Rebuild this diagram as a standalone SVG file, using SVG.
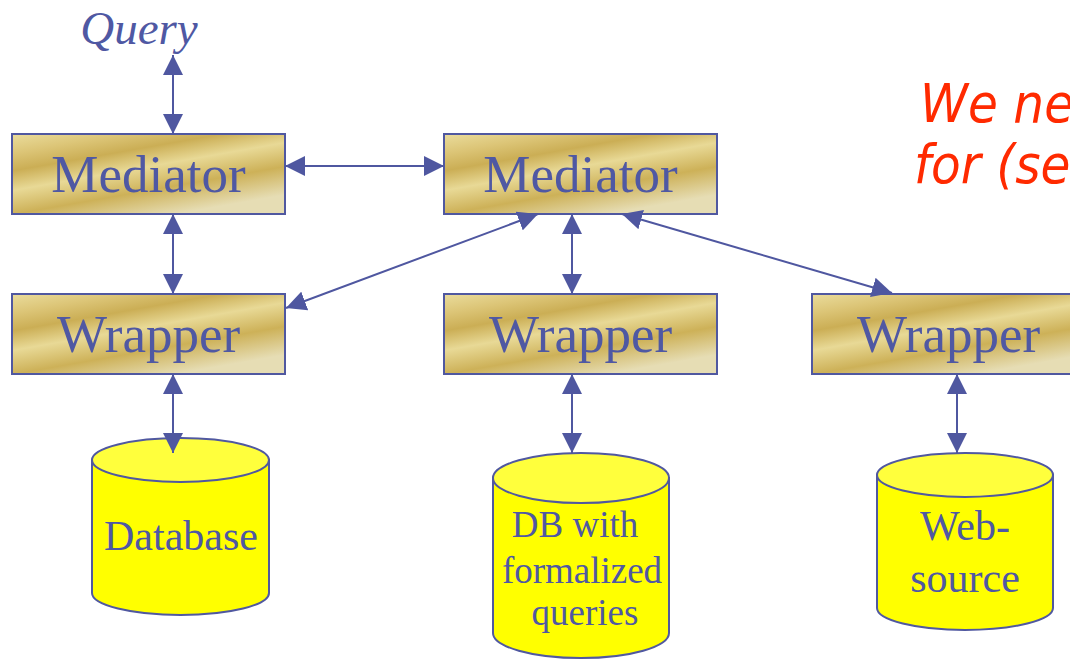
<svg xmlns="http://www.w3.org/2000/svg" width="1070" height="659" viewBox="0 0 1070 659">
<style>
.box{stroke:#5058A0;stroke-width:2;fill:url(#gold)}
.lbl{font-family:"Liberation Serif","Times New Roman",serif;fill:#4F58A3;text-anchor:middle}
.big{font-size:53px}
.db{font-size:42px}
.db2{font-size:37px}
.cyl{stroke:#5058A0;stroke-width:2;fill:#FFFF00}
.cyltop{stroke:#5058A0;stroke-width:2;fill:#FFFF3C}
.con{stroke:#4F57A0;stroke-width:2;fill:none;marker-start:url(#ah);marker-end:url(#ah)}
.red{font-family:"DejaVu Sans Condensed","DejaVu Sans",sans-serif;font-style:italic;font-size:54px;fill:#FF2A00}
</style>
<defs>
<linearGradient id="gold" x1="0" y1="0" x2="0.6" y2="1">
<stop offset="0" stop-color="#EADC9C"/>
<stop offset="0.18" stop-color="#DCC577"/>
<stop offset="0.34" stop-color="#CBAE55"/>
<stop offset="0.52" stop-color="#E8D996"/>
<stop offset="0.74" stop-color="#CDB158"/>
<stop offset="1" stop-color="#E6DDB4"/>
</linearGradient>
<marker id="ah" viewBox="0 0 20 20" refX="20" refY="10" markerWidth="20" markerHeight="20" markerUnits="userSpaceOnUse" orient="auto-start-reverse">
<path d="M0,0 L20,10 L0,20 z" fill="#4F57A0"/>
</marker>
</defs>
<rect width="1070" height="659" fill="#FFFFFF"/>
<g id="query"><text class="lbl" x="139" y="44" font-size="47" font-style="italic">Query</text></g>
<g id="note">
<text class="red" x="920" y="122">We ne</text>
<text class="red" x="914" y="183">for (se</text>
</g>
<g id="mediator1"><rect class="box" x="12" y="134" width="273" height="80"/><text class="lbl big" x="148.5" y="192">Mediator</text></g>
<g id="mediator2"><rect class="box" x="444" y="134" width="273" height="80"/><text class="lbl big" x="580.5" y="192">Mediator</text></g>
<g id="wrapper1"><rect class="box" x="12" y="294" width="273" height="80"/><text class="lbl big" x="148.5" y="352">Wrapper</text></g>
<g id="wrapper2"><rect class="box" x="444" y="294" width="273" height="80"/><text class="lbl big" x="580.5" y="352">Wrapper</text></g>
<g id="wrapper3"><rect class="box" x="812" y="294" width="273" height="80"/><text class="lbl big" x="948.5" y="352">Wrapper</text></g>
<g id="database">
<path class="cyl" d="M92,460 L92,593 A88.5,22 0 0 0 269,593 L269,460 Z"/>
<ellipse class="cyltop" cx="180.5" cy="460" rx="88.5" ry="22"/>
<text class="lbl db" x="181" y="550">Database</text>
</g>
<g id="dbformal">
<path class="cyl" d="M493,478 L493,633 A88,25 0 0 0 669,633 L669,478 Z"/>
<ellipse class="cyltop" cx="581" cy="478" rx="88" ry="25"/>
<text class="lbl db2" x="575" y="537">DB with</text>
<text class="lbl db2" x="582" y="583">formalized</text>
<text class="lbl db2" x="585" y="625">queries</text>
</g>
<g id="websource">
<path class="cyl" d="M877,475 L877,608 A88,22 0 0 0 1053,608 L1053,475 Z"/>
<ellipse class="cyltop" cx="965" cy="475" rx="88" ry="22"/>
<text class="lbl db" x="965" y="540">Web-</text>
<text class="lbl db" x="965" y="592">source</text>
</g>
<g id="connectors">
<line class="con" x1="173" y1="55" x2="173" y2="134"/>
<line class="con" x1="285" y1="166" x2="444" y2="166"/>
<line class="con" x1="173" y1="214" x2="173" y2="294"/>
<line class="con" x1="538" y1="214" x2="286" y2="308"/>
<line class="con" x1="572" y1="214" x2="572" y2="294"/>
<line class="con" x1="622" y1="214" x2="892" y2="293"/>
<line class="con" x1="173" y1="374" x2="173" y2="453"/>
<line class="con" x1="572" y1="374" x2="572" y2="453"/>
<line class="con" x1="957" y1="374" x2="957" y2="453"/>
</g>
</svg>
